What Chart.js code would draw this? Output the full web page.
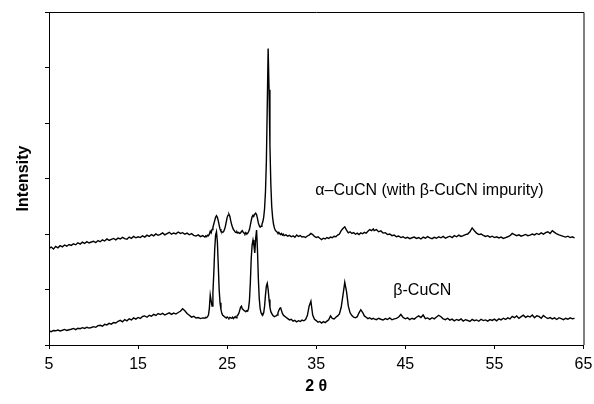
<!DOCTYPE html>
<html>
<head>
<meta charset="utf-8">
<title>XRD CuCN</title>
<script src="https://cdn.jsdelivr.net/npm/chart.js@4.4.1/dist/chart.umd.min.js"></script>
<style>
    html, body { margin: 0; padding: 0; background: #fff; }
    canvas { display: block; }
</style>
</head>
<body>
<canvas id="xrdChart" width="594" height="404"></canvas>
<script>
// 2 theta values (degrees), shared by both patterns
const angles = [
    5, 5.25, 5.5, 5.75, 6, 6.25, 6.5, 6.75, 7, 7.25,
    7.5, 7.75, 8, 8.25, 8.5, 8.75, 9, 9.25, 9.5, 9.75,
    10, 10.25, 10.5, 10.75, 11, 11.25, 11.5, 11.75, 12, 12.25,
    12.5, 12.75, 13, 13.25, 13.5, 13.75, 14, 14.25, 14.5, 14.75,
    15, 15.25, 15.5, 15.75, 16, 16.25, 16.5, 16.75, 17, 17.25,
    17.5, 17.75, 18, 18.25, 18.5, 18.75, 19, 19.25, 19.5, 19.75,
    20, 20.25, 20.5, 20.75, 21, 21.25, 21.5, 21.75, 22, 22.25,
    22.5, 22.6, 22.7, 22.8, 22.9, 23, 23.1, 23.2, 23.3, 23.4,
    23.5, 23.6, 23.7, 23.8, 23.9, 24, 24.1, 24.2, 24.3, 24.4,
    24.5, 24.6, 24.7, 24.8, 24.9, 25, 25.1, 25.2, 25.3, 25.4,
    25.5, 25.6, 25.7, 25.8, 25.9, 26, 26.1, 26.2, 26.3, 26.4,
    26.5, 26.6, 26.7, 26.8, 26.9, 27, 27.1, 27.2, 27.3, 27.4,
    27.5, 27.6, 27.7, 27.8, 27.9, 28, 28.1, 28.2, 28.3, 28.4,
    28.5, 28.6, 28.7, 28.8, 28.9, 29, 29.1, 29.2, 29.3, 29.4,
    29.5, 29.6, 29.7, 29.8, 29.9, 30, 30.1, 30.2, 30.3, 30.4,
    30.5, 30.6, 30.7, 30.8, 30.9, 31, 31.1, 31.2, 31.3, 31.4,
    31.6, 31.8, 32, 32.2, 32.4, 32.6, 32.8, 33, 33.2, 33.4,
    33.6, 33.8, 34, 34.2, 34.4, 34.6, 34.8, 35, 35.2, 35.4,
    35.6, 35.8, 36, 36.2, 36.4, 36.6, 36.8, 37, 37.2, 37.4,
    37.6, 37.8, 38, 38.2, 38.4, 38.6, 38.8, 39, 39.2, 39.4,
    39.6, 39.8, 40, 40.2, 40.4, 40.6, 40.8, 41, 41.2, 41.4,
    41.5, 41.75, 42, 42.25, 42.5, 42.75, 43, 43.25, 43.5, 43.75,
    44, 44.25, 44.5, 44.75, 45, 45.25, 45.5, 45.75, 46, 46.25,
    46.5, 46.75, 47, 47.25, 47.5, 47.75, 48, 48.25, 48.5, 48.75,
    49, 49.25, 49.5, 49.75, 50, 50.25, 50.5, 50.75, 51, 51.25,
    51.5, 51.75, 52, 52.25, 52.5, 52.75, 53, 53.25, 53.5, 53.75,
    54, 54.25, 54.5, 54.75, 55, 55.25, 55.5, 55.75, 56, 56.25,
    56.5, 56.75, 57, 57.25, 57.5, 57.75, 58, 58.25, 58.5, 58.75,
    59, 59.25, 59.5, 59.75, 60, 60.25, 60.5, 60.75, 61, 61.25,
    61.5, 61.75, 62, 62.25, 62.5, 62.75, 63, 63.25, 63.5, 63.75, 64
];

// alpha-CuCN (with beta-CuCN impurity), upper trace
const alphaCounts = [
    870, 882, 864, 889, 876, 895, 884, 901, 890, 905,
    897, 912, 903, 921, 909, 926, 915, 931, 919, 928,
    935, 922, 941, 930, 948, 937, 955, 942, 951, 960,
    947, 963, 955, 970, 958, 952, 972, 961, 978, 966,
    975, 968, 984, 972, 990, 979, 995, 983, 1001, 988,
    996, 1010, 992, 1004, 1015, 998, 1009, 1001, 1018, 1005,
    1012, 998, 1008, 993, 1003, 988, 981, 992, 976, 985,
    972, 983, 976, 990, 985, 998, 1025, 1010, 1040, 1060,
    1090, 1120, 1150, 1165, 1150, 1120, 1080, 1045, 1025, 1020,
    1015, 1022, 1040, 1070, 1110, 1150, 1170, 1178, 1160, 1120,
    1085, 1060, 1040, 1030, 1018, 1012, 1020, 1008, 1014, 1005,
    1010, 1022, 1030, 1015, 1008, 1000, 1012, 998, 1006, 1020,
    1040, 1080, 1120, 1155, 1170, 1165, 1178, 1188, 1175, 1140,
    1100, 1075, 1062, 1070, 1085, 1110, 1150, 1230, 1380, 1650,
    2150, 2670, 2300, 1800, 1450, 1250, 1150, 1090, 1055, 1035,
    1025, 1018, 1008, 1015, 1002, 995, 1004, 990, 998, 985,
    992, 980, 988, 975, 984, 970, 991, 978, 986, 973,
    976, 969, 982, 990, 1005, 995, 978, 968, 975, 962,
    950, 962, 955, 968, 960, 972, 966, 980, 975, 990,
    1000, 1030, 1050, 1065, 1035, 1010, 1020, 1005, 1012, 998,
    1008, 995, 1010, 1002, 1015, 1008, 1025, 1040, 1030, 1045,
    1030, 1040, 1020, 1028, 1008, 1012, 995, 1000, 985, 990,
    975, 982, 968, 975, 962, 970, 958, 966, 972, 960,
    968, 955, 972, 962, 976, 965, 958, 970, 962, 975,
    966, 978, 962, 972, 980, 968, 985, 975, 990, 978,
    985, 995, 1000, 1020, 1055, 1030, 1008, 995, 1000, 988,
    978, 985, 972, 980, 968, 975, 965, 972, 960, 968,
    975, 985, 1005, 995, 985, 992, 980, 988, 996, 985,
    990, 1000, 992, 1005, 995, 1010, 998, 1012, 1020, 1005,
    1030, 1015, 1000, 992, 985, 978, 972, 980, 968, 975, 964
];

// beta-CuCN, lower trace
const betaCounts = [
    126, 120, 131, 128, 135, 127, 133, 140, 131, 137,
    142, 149, 138, 151, 147, 156, 149, 160, 152, 158,
    165, 159, 174, 178, 169, 186, 181, 195, 188, 203,
    198, 214, 222, 209, 229, 218, 236, 226, 244, 233,
    248, 239, 257, 262, 250, 268, 259, 276, 266, 283,
    274, 285, 270, 281, 290, 276, 287, 279, 293, 304,
    326, 308, 284, 268, 251, 259, 243, 247, 238, 244,
    241, 250, 246, 255, 270, 330, 450, 400, 350, 470,
    650, 860, 990, 1020, 930, 720, 500, 380, 320, 285,
    268, 262, 255, 249, 243, 252, 246, 240, 249, 244,
    241, 250, 238, 247, 255, 244, 262, 270, 285, 310,
    340, 350, 325, 320, 310, 305, 300, 310, 305, 330,
    400, 560, 780, 900, 945, 900, 830, 960, 1035, 860,
    600, 420, 330, 290, 275, 270, 290, 350, 450, 530,
    555, 500, 410, 340, 300, 285, 270, 262, 255, 260,
    262, 270, 290, 310, 330, 335, 310, 285, 270, 262,
    250, 238, 226, 232, 215, 222, 208, 219, 212, 224,
    218, 230, 265, 350, 395, 270, 232, 220, 205, 212,
    198, 210, 202, 215, 228, 262, 240, 235, 250, 262,
    280, 340, 450, 565, 480, 350, 290, 265, 250, 245,
    255, 290, 318, 295, 262, 250, 238, 245, 232, 240,
    236, 228, 241, 232, 225, 238, 230, 244, 227, 235,
    240, 252, 275, 248, 236, 244, 229, 241, 233, 250,
    262, 247, 270, 238, 244, 231, 246, 236, 252, 268,
    255, 236, 228, 241, 224, 233, 218, 230, 222, 235,
    216, 228, 221, 212, 230, 219, 226, 214, 232, 220,
    226, 215, 229, 221, 233, 218, 236, 226, 241, 230,
    244, 235, 258, 246, 262, 240, 255, 268, 249, 260,
    252, 270, 246, 263, 258, 241, 266, 250, 238, 247,
    235, 244, 230, 246, 237, 228, 241, 232, 245, 236, 240
];

// Axis ticks
const xTicks = [5, 15, 25, 35, 45, 55, 65];
const yMax = 3000;
const yStep = 500;

// Curve labels, placed in data coordinates (left edge of text)
const labelTexts = ['\u03b1\u2013CuCN (with \u03b2-CuCN impurity)', '\u03b2-CuCN'];
const labelAngles = [34.9, 43.65];
const labelCounts = [1395, 486];

const FONT = '"Liberation Sans", Arial, Helvetica, sans-serif';

const toPoints = counts => angles.map((a, i) => ({ x: a, y: counts[i] }));

// draws the closing top/right frame and the two curve labels
const framePlugin = {
    id: 'frame',
    afterDraw(chart) {
        const { ctx, chartArea: a, scales } = chart;
        ctx.save();
        ctx.strokeStyle = '#000';
        ctx.lineWidth = 1;
        ctx.beginPath();
        ctx.moveTo(a.left, a.top + 0.5);
        ctx.lineTo(a.right + 0.5, a.top + 0.5);
        ctx.lineTo(a.right + 0.5, a.bottom);
        ctx.stroke();

        ctx.fillStyle = '#000';
        ctx.font = `16px ${FONT}`;
        ctx.textBaseline = 'middle';
        ctx.textAlign = 'left';
        labelTexts.forEach((t, i) => {
            ctx.fillText(t, scales.x.getPixelForValue(labelAngles[i]), scales.y.getPixelForValue(labelCounts[i]));
        });
        ctx.restore();
    }
};

const ctx = document.getElementById('xrdChart').getContext('2d');
new Chart(ctx, {
    type: 'line',
    data: {
        datasets: [
            { label: 'alpha', data: toPoints(alphaCounts), borderColor: '#000', borderWidth: 1.4, pointRadius: 0, tension: 0, fill: false },
            { label: 'beta', data: toPoints(betaCounts), borderColor: '#000', borderWidth: 1.4, pointRadius: 0, tension: 0, fill: false }
        ]
    },
    options: {
        responsive: false,
        animation: false,
        devicePixelRatio: 1,
        layout: { padding: { left: 0, right: 10.5, top: 12, bottom: 0 } },
        plugins: { legend: { display: false }, tooltip: { enabled: false } },
        scales: {
            x: {
                type: 'linear',
                min: 5,
                max: 65,
                afterBuildTicks: axis => { axis.ticks = xTicks.map(v => ({ value: v })); },
                afterFit: axis => {
                    axis.height = 59;
                    // keep the end labels from shrinking the plot area
                    axis.paddingLeft = 0;
                    axis.paddingRight = 0;
                },
                ticks: { color: '#000', font: { family: FONT, size: 16 }, padding: 6, maxRotation: 0 },
                grid: { display: true, drawOnChartArea: false, drawTicks: true, tickLength: 4, color: '#000' },
                border: { display: true, color: '#000', width: 1 },
                title: { display: true, text: '2 \u03b8', color: '#000', font: { family: FONT, size: 16, weight: 'bold' }, padding: { top: 4, bottom: 8 } }
            },
            y: {
                min: 0,
                max: yMax,
                afterFit: axis => { axis.width = 49; },
                ticks: { display: false, stepSize: yStep },
                grid: { display: true, drawOnChartArea: false, drawTicks: true, tickLength: 4, color: '#000' },
                border: { display: true, color: '#000', width: 1 },
                title: { display: true, text: 'Intensity', color: '#000', font: { family: FONT, size: 16, weight: 'bold' }, padding: { top: 14, bottom: 4 } }
            }
        }
    },
    plugins: [framePlugin]
});
</script>
</body>
</html>
